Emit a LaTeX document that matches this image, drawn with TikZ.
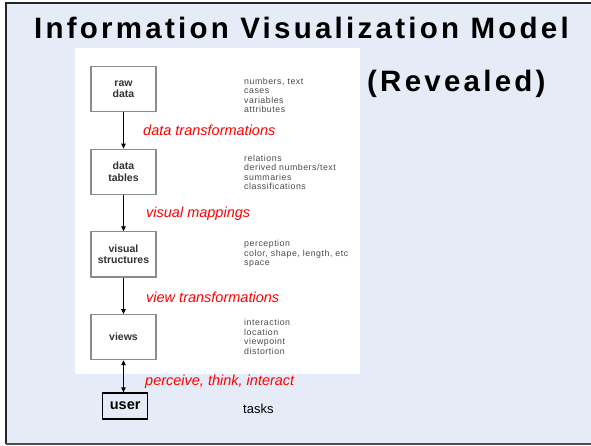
\documentclass[tikz,border=0pt]{standalone}
\usepackage{fontspec}
\setmainfont{Liberation Sans}
\newfontfamily\titlefont[LetterSpace=11]{Liberation Sans}
\newfontfamily\notefont[LetterSpace=6]{Liberation Sans}
\usetikzlibrary{positioning,arrows.meta}

\definecolor{bgblue}{RGB}{229,235,247}
\definecolor{boxgray}{RGB}{140,140,140}
\definecolor{textgray}{RGB}{50,50,50}
\definecolor{notegray}{RGB}{75,75,75}

\tikzstyle{sblock} = [draw=boxgray,line width=1.2pt,rectangle,fill=white,minimum width=65pt,minimum height=45pt,inner sep=0pt,align=center,text=textgray,font={\fontsize{10.5}{11.5}\selectfont\bfseries},node distance=36.5pt]
\tikzstyle{ublock} = [draw=black,line width=1.3pt,rectangle,minimum width=45pt,minimum height=26pt,inner sep=0pt,font={\fontsize{14.5}{16}\selectfont\bfseries}]
\tikzstyle{note}   = [anchor=base west,align=left,inner sep=0pt,text=notegray,font={\fontsize{8.8}{9.5}\selectfont\notefont}]
\tikzstyle{step label} = [anchor=base west,inner sep=0pt,text=red,font={\fontsize{14.5}{16}\selectfont\itshape}]
\tikzstyle{title} = [anchor=base west,inner sep=0pt,font={\fontsize{29.5}{31}\selectfont\titlefont\bfseries}]
\tikzstyle{flow}  = [draw=black,line width=0.9pt,-{Triangle[length=5pt,width=4.5pt]}]
\tikzstyle{flow2} = [draw=black,line width=0.9pt,{Triangle[length=5pt,width=4.5pt]}-{Triangle[length=5pt,width=4.5pt]}]

\begin{document}
\begin{tikzpicture}[x=1pt,y=-1pt]
			\useasboundingbox (0,0) rectangle (591,446);
			% slide frame
			\fill[bgblue] (6,3) rectangle (591,444);
			\draw[line width=2pt,black!85] (591,3) -- (6,3) -- (6,444);
			\draw[line width=1.5pt,black!70] (6,444) -- (591,444);
			\fill[white] (75,47.7) rectangle (360,374);

			\node [title](head 1) at (34,39){Information Visualization Model};
			\node [title](head 2) at (367,92){(Revealed)};

			\node [sblock](rawdata) at (123.5,89){raw\\data};
			\node [sblock,below=of rawdata](tables){data\\tables};
			\node [sblock,below=of tables](structs){visual\\structures};
			\node [sblock,below=of structs](views){views};
			\node [ublock](user) at (125.2,406){user};

			% notes: anchored at the baseline of their last line
			\node [note](note 1) at (244,113){numbers, text\\cases\\variables\\attributes};
			\node [note](note 2) at (244,190){relations\\derived numbers/text\\summaries\\classifications};
			\node [note](note 3) at (244,265.5){perception\\color, shape, length, etc\\space};
			\node [note](note 4) at (244,354){interaction\\location\\viewpoint\\distortion};
			\node [anchor=base west,inner sep=0pt,font={\fontsize{13}{15}\selectfont}](note 5) at (243,413){tasks};

			\node [step label](step 1) at (143,136){data transformations};
			\node [step label](step 2) at (146,218){visual mappings};
			\node [step label](step 3) at (146,302.7){view transformations};
			\node [step label](step 4) at (145,385){perceive, think, interact};

			\draw [flow] (rawdata) -- (tables);
			\draw [flow] (tables) -- (structs);
			\draw [flow] (structs) -- (views);
			\draw [flow2] (views.south) -- (views.south |- user.north);
\end{tikzpicture}
\end{document}
